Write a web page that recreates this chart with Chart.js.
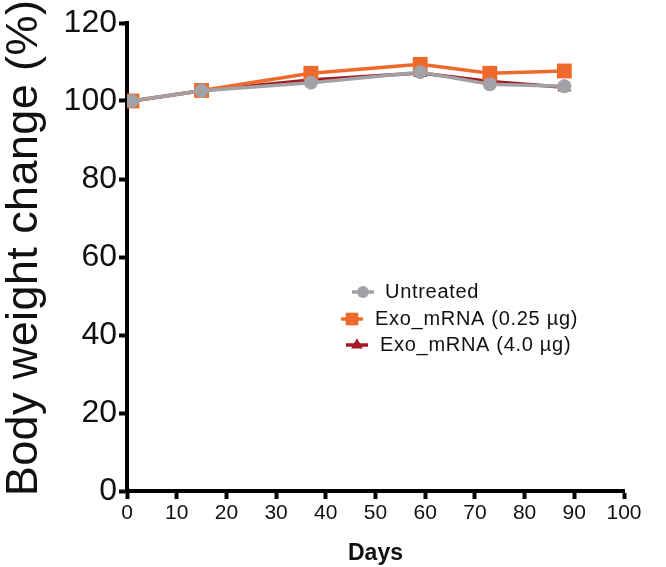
<!DOCTYPE html>
<html>
<head>
<meta charset="utf-8">
<script src="https://cdn.jsdelivr.net/npm/chart.js@4"></script>
<style>
html,body{margin:0;padding:0;background:#fff;}
#wrap{position:relative;width:666px;height:567px;}
</style>
</head>
<body>
<div id="wrap"><canvas id="c" width="666" height="567"></canvas></div>
<script>
const days = [1, 15, 37, 59, 73, 88];
const untreated = [100, 102.6, 104.7, 107.4, 104.3, 103.8];
const exoLow = [100, 102.7, 107.1, 109.4, 107.1, 107.7];
const exoHigh = [100, 102.6, 105.4, 107.2, 105.0, 103.5];
const seriesNames = ['Untreated', 'Exo_mRNA (0.25 µg)', 'Exo_mRNA (4.0 µg)'];
const xTicks = [0, 10, 20, 30, 40, 50, 60, 70, 80, 90, 100];
const yTicks = [0, 20, 40, 60, 80, 100, 120];
const yTitle = 'Body weight change (%)';
const xTitle = 'Days';

const GRAY = '#a1a1a6', ORANGE = '#ee6a2c', RED = '#a31a22';
const FONT = '"Liberation Sans", Arial, Helvetica, sans-serif';

function pts(vals){ return vals.map((v,i)=>({x:days[i], y:v})); }

const legendLayout = [
  {mx: 363, tx: 385, y: 292},
  {mx: 352, tx: 375, y: 319},
  {mx: 357, tx: 380, y: 345}
];

const legendPlugin = {
  id: 'customLegend',
  afterDraw(chart){
    const ctx = chart.ctx;
    ctx.save();
    chart.data.datasets.forEach((ds, i) => {
      const L = legendLayout[i];
      ctx.strokeStyle = ds.borderColor;
      ctx.lineWidth = 3.5;
      ctx.beginPath();
      ctx.moveTo(L.mx - 11, L.y); ctx.lineTo(L.mx + 11, L.y);
      ctx.stroke();
      const opts = {pointStyle: ds.pointStyle, radius: ds.pointRadius * 0.85, rotation: 0, borderWidth: 0};
      ctx.fillStyle = ds.backgroundColor;
      ctx.strokeStyle = ds.backgroundColor;
      Chart.helpers.drawPoint(ctx, opts, L.mx, L.y);
      ctx.fillStyle = '#111';
      ctx.font = '20px ' + FONT;
      ctx.letterSpacing = '0.7px';
      ctx.textBaseline = 'middle';
      ctx.textAlign = 'left';
      ctx.fillText(ds.label, L.tx, L.y);
    });
    ctx.letterSpacing = '0px';
    // y axis title
    ctx.translate(25, 248);
    ctx.rotate(-Math.PI/2);
    ctx.font = '45px ' + FONT;
    ctx.letterSpacing = '0.4px';
    ctx.fillStyle = '#111';
    ctx.textAlign = 'center';
    ctx.textBaseline = 'middle';
    ctx.fillText(yTitle, 0, 0);
    ctx.restore();
  }
};

new Chart(document.getElementById('c'), {
  type: 'line',
  data: {
    datasets: [
      {label: seriesNames[0], data: pts(untreated), borderColor: GRAY, backgroundColor: GRAY,
       pointStyle: 'circle', pointRadius: 7, pointBorderWidth: 0, borderWidth: 3.5, order: 0},
      {label: seriesNames[1], data: pts(exoLow), borderColor: ORANGE, backgroundColor: ORANGE,
       pointStyle: 'rect', pointRadius: 10.5, pointBorderWidth: 0, borderWidth: 3.5, order: 1},
      {label: seriesNames[2], data: pts(exoHigh), borderColor: RED, backgroundColor: RED,
       pointStyle: 'triangle', pointRadius: 8, pointBorderWidth: 0, borderWidth: 3.5, order: 2}
    ]
  },
  options: {
    responsive: false,
    animation: false,
    layout: {padding: {top: 23, right: 42, left: 0, bottom: 0}},
    plugins: {legend: {display: false}, tooltip: {enabled: false}},
    elements: {line: {tension: 0}},
    scales: {
      x: {
        type: 'linear', min: 0, max: 100,
        afterBuildTicks(s){ s.ticks = xTicks.map(v=>({value:v})); },
        afterFit(s){ s.height = 76; },
        grid: {display: true, drawOnChartArea: false, drawTicks: true, tickLength: 8, tickWidth: 4, tickColor: '#000'},
        border: {display: true, color: '#000', width: 4},
        ticks: {color: '#111', font: {size: 21, family: FONT}, padding: 2, maxRotation: 0, autoSkip: false},
        title: {display: true, text: xTitle, color: '#111', font: {size: 23, weight: 'bold', family: FONT}, padding: {top: 0, bottom: 0}}
      },
      y: {
        type: 'linear', min: 0, max: 120,
        afterBuildTicks(s){ s.ticks = yTicks.map(v=>({value:v})); },
        afterFit(s){ s.width = 127; },
        grid: {display: true, drawOnChartArea: false, drawTicks: true, tickLength: 8, tickWidth: 4, tickColor: '#000'},
        border: {display: true, color: '#000', width: 4},
        ticks: {color: '#111', font: {size: 32, family: FONT}, padding: 2, autoSkip: false}
      }
    }
  },
  plugins: [legendPlugin]
});
</script>
</body>
</html>
